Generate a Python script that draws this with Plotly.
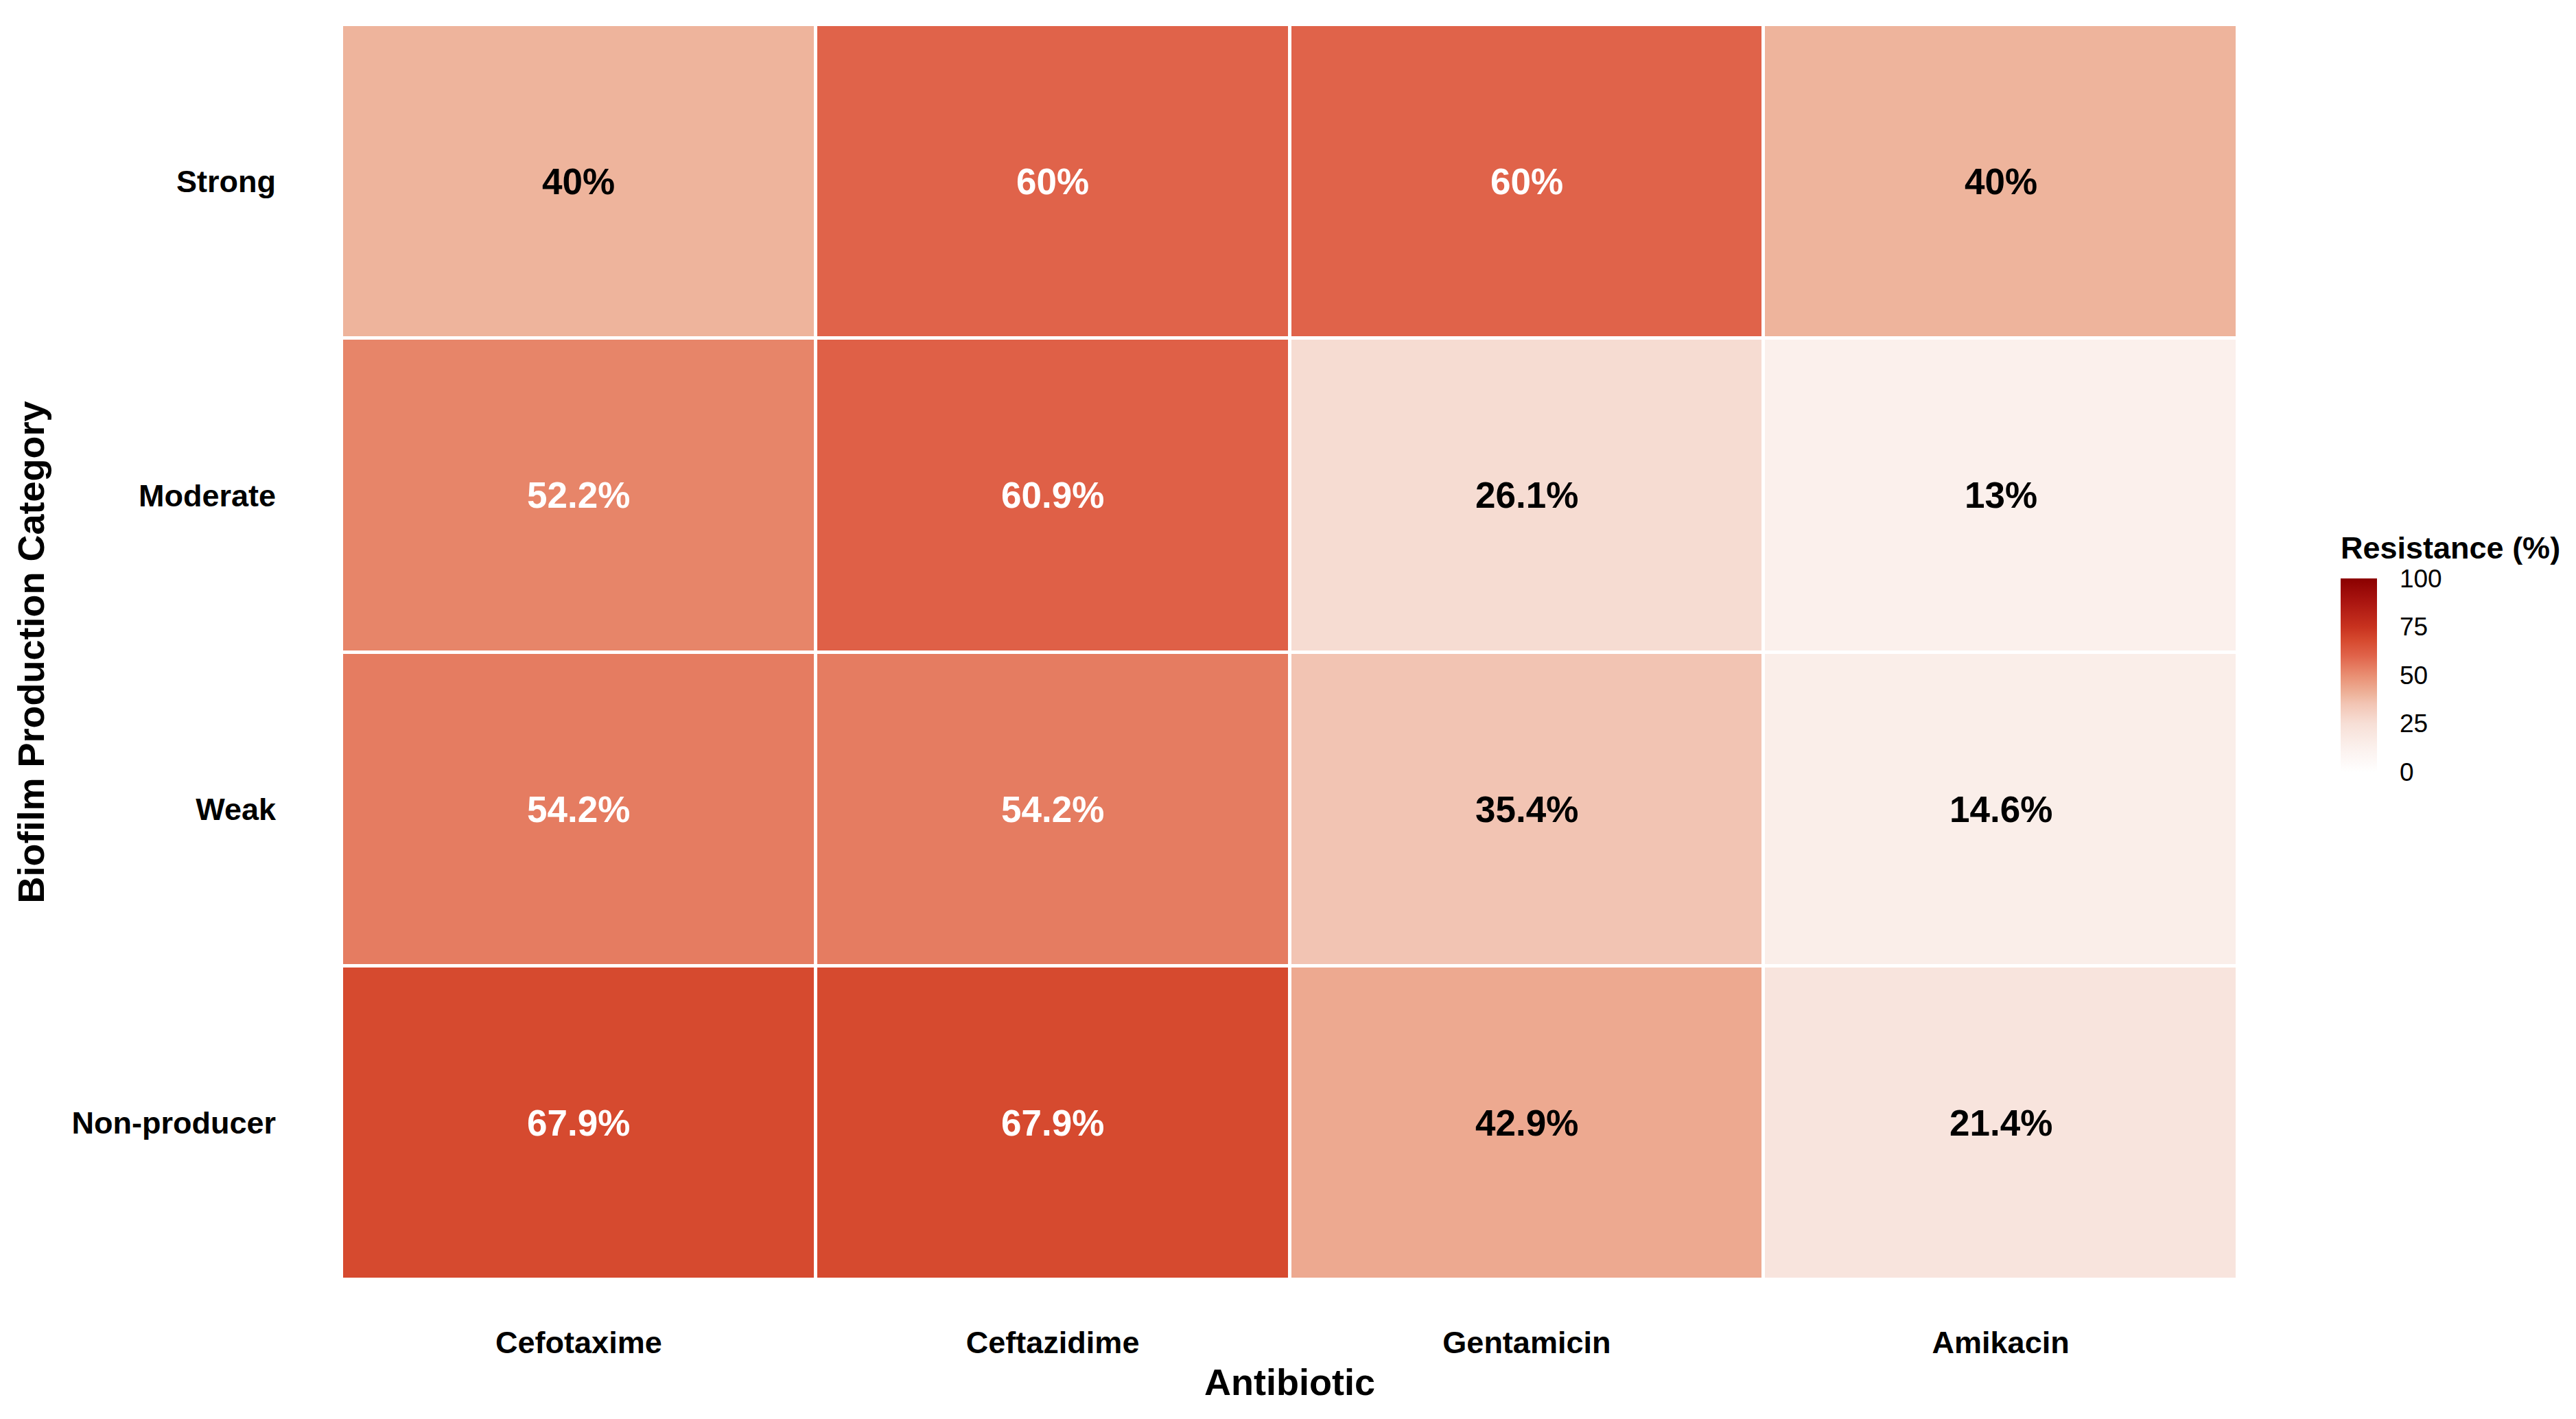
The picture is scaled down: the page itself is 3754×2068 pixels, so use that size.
import plotly.graph_objects as go

# data
antibiotics = ["Cefotaxime", "Ceftazidime", "Gentamicin", "Amikacin"]
categories = ["Non-producer", "Weak", "Moderate", "Strong"]  # bottom -> top

strong = [40, 60, 60, 40]
moderate = [52.2, 60.9, 26.1, 13]
weak = [54.2, 54.2, 35.4, 14.6]
non_producer = [67.9, 67.9, 42.9, 21.4]

colorbar_ticks = [0, 25, 50, 75, 100]

z = [non_producer, weak, moderate, strong]

FONT = "Liberation Sans, Arial, sans-serif"
SCALE = [
    [0.0, "#FFFFFF"], [0.13, "#FBF0EC"], [0.25, "#F7DFD6"], [0.354, "#F2C4B3"],
    [0.40, "#EEB49C"], [0.5, "#E98E72"], [0.6, "#E0634A"], [0.679, "#D64A2F"],
    [0.75, "#C8321F"], [0.88, "#AA1510"], [1.0, "#8B0000"],
]

W, H = 3754, 2068
L, R, T, B = 490, 501, 28, 211
plot_w = W - L - R
plot_h = H - T - B
OFF = 8  # page margin around the figure


def px_to_paper_y(y):
    return 1 - (y - OFF - T) / plot_h


def px_to_paper_x(x):
    return (x - OFF - L) / plot_w


fig = go.Figure(go.Heatmap(
    x=antibiotics, y=categories, z=z,
    zmin=0, zmax=100, colorscale=SCALE,
    xgap=5, ygap=5, hoverinfo="skip",
    colorbar=dict(
        tickvals=colorbar_ticks, ticks="outside", ticklen=26, tickwidth=3,
        tickcolor="rgba(0,0,0,0)", tickfont=dict(size=37, color="black", family=FONT),
        outlinewidth=0, thicknessmode="pixels", thickness=53,
        lenmode="pixels", len=282, x=px_to_paper_x(3411), xanchor="left", xpad=0,
        y=px_to_paper_y(984), yanchor="middle", ypad=0,
    ),
))

# legend title placed by hand to keep the gap above the bar
fig.add_annotation(
    xref="paper", yref="paper", x=px_to_paper_x(3409), y=px_to_paper_y(798),
    xanchor="left", yanchor="middle", showarrow=False,
    text="<b>Resistance (%)</b>", font=dict(size=45, color="black", family=FONT),
)

# cell labels, white on the darker cells
for row, vals in zip(categories, z):
    for ab, v in zip(antibiotics, vals):
        fig.add_annotation(
            x=ab, y=row, text=f"<b>{v:g}%</b>", showarrow=False,
            font=dict(size=53, family=FONT, color="white" if v > 50 else "black"),
        )

fig.update_xaxes(
    title=dict(text="<b>Antibiotic</b>", font=dict(size=54, color="black"), standoff=14),
    tickvals=antibiotics, ticktext=[f"<b>{a}</b>" for a in antibiotics],
    tickfont=dict(size=45, color="black"), ticklabelstandoff=61,
    showgrid=False, zeroline=False, showline=False,
)
fig.update_yaxes(
    title=dict(text="<b>Biofilm Production Category</b>", font=dict(size=54, color="black"), standoff=22),
    tickvals=categories, ticktext=[f"<b>{c}</b>" for c in categories],
    tickfont=dict(size=45, color="black"), ticklabelstandoff=95,
    showgrid=False, zeroline=False, showline=False,
)

fig.update_layout(
    width=W, height=H, margin=dict(l=L, r=R, t=T, b=B),
    plot_bgcolor="white", paper_bgcolor="white",
    font=dict(family=FONT, color="black"),
)

fig.write_html("out.html")
